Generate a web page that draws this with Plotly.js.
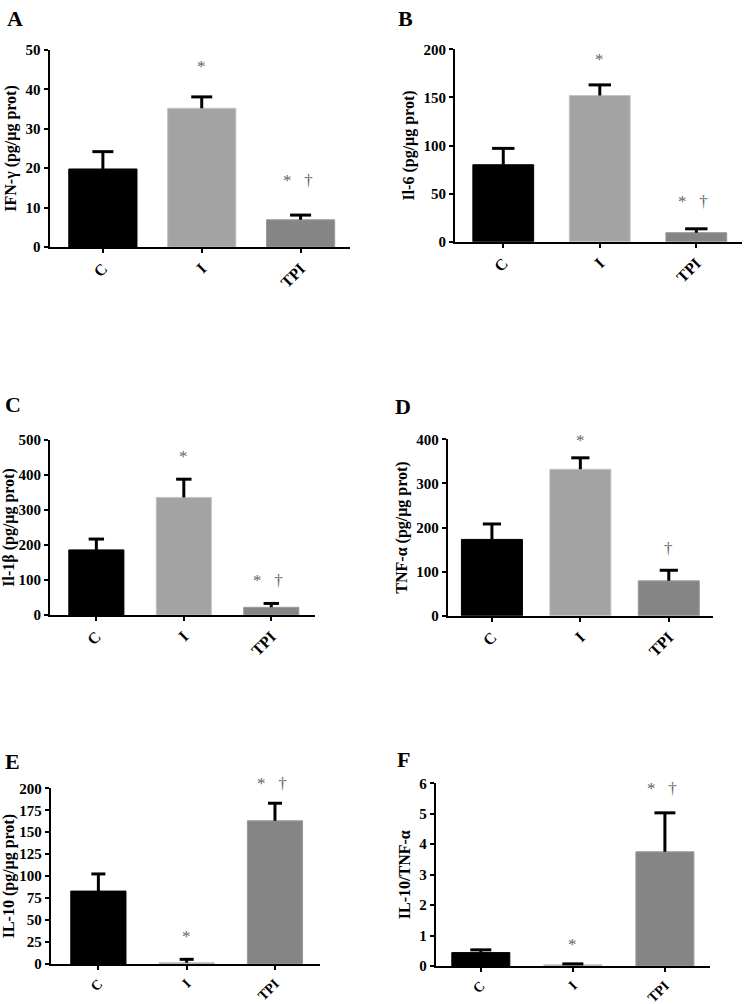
<!DOCTYPE html>
<html>
<head>
<meta charset="utf-8">
<script src="https://cdn.plot.ly/plotly-3.0.1.min.js"></script>
<style>html,body{margin:0;padding:0;background:#fff;}#chart{width:747px;height:1004px;}</style>
</head>
<body>
<div id="chart"></div>
<script>
// ---- data ----
const categories = ['C', 'I', 'TPI'];
const barColors = ['#000000', '#a3a3a3', '#858585'];
const barEdges = ['#000000', '#c4c4c4', '#9a9a9a'];

const ifnMean = [19.8, 35.2, 6.9];
const ifnSem = [4.4, 2.9, 1.2];
const il6Mean = [80, 152, 9.4];
const il6Sem = [17, 11, 4];
const il1bMean = [186, 336, 22];
const il1bSem = [31, 52, 11];
const tnfMean = [173, 332, 79];
const tnfSem = [35, 26, 24];
const il10Mean = [83, 1.5, 163];
const il10Sem = [19.5, 3.8, 20];
const ratioMean = [0.44, 0.04, 3.75];
const ratioSem = [0.09, 0.03, 1.28];

const sigA = ['', '*', '*   \u2020'];
const sigD = ['', '*', '\u2020'];
const sigLevelA = [null, 45.7, 17];
const sigLevelB = [null, 189, 41.6];
const sigLevelC = [null, 452, 100];
const sigLevelD = [null, 398, 153];
const sigLevelE = [null, 31, 205.7];
const sigLevelF = [null, 0.69, 5.84];

const yTitles = ['IFN-\u03b3 (pg/\u03bcg prot)', 'Il-6 (pg/\u03bcg prot)', 'Il-1\u03b2 (pg/\u03bcg prot)',
                 'TNF-\u03b1 (pg/\u03bcg prot)', 'IL-10 (pg/\u03bcg prot)', 'IL-10/TNF-\u03b1'];
const panelLetters = ['A', 'B', 'C', 'D', 'E', 'F'];

// ---- layout helpers ----
const W = 747, H = 1004;
const FONT = 'Liberation Serif, Times New Roman, serif';

const panels = [
  {mean: ifnMean, sem: ifnSem, sig: sigA, lvl: sigLevelA, ymax: 50, dtick: 10,
   px: [49.5, 350], py: [50, 247], xr: [-0.54, 2.5], bw: 0.69, cap: 15, letter: [5, 4], xf: 16},
  {mean: il6Mean, sem: il6Sem, sig: sigA, lvl: sigLevelB, ymax: 200, dtick: 50,
   px: [455, 741.7], py: [49.3, 241.7], xr: [-0.5, 2.47], bw: 0.63, cap: 16, letter: [396, 4], xf: 16},
  {mean: il1bMean, sem: il1bSem, sig: sigA, lvl: sigLevelC, ymax: 500, dtick: 100,
   px: [50, 315], py: [440, 615], xr: [-0.53, 2.5], bw: 0.63, cap: 11, letter: [3, 390], xf: 16},
  {mean: tnfMean, sem: tnfSem, sig: sigD, lvl: sigLevelD, ymax: 400, dtick: 100,
   px: [447.7, 713], py: [439.3, 615.7], xr: [-0.5, 2.5], bw: 0.69, cap: 13, letter: [393, 392], xf: 16},
  {mean: il10Mean, sem: il10Sem, sig: sigA, lvl: sigLevelE, ymax: 200, dtick: 25,
   px: [50.7, 320], py: [788.3, 964], xr: [-0.54, 2.51], bw: 0.625, cap: 10, letter: [3, 747], xf: 14},
  {mean: ratioMean, sem: ratioSem, sig: sigA, lvl: sigLevelF, ymax: 6, dtick: 1,
   px: [435.7, 710], py: [783.3, 966], xr: [-0.49, 2.49], bw: 0.63, cap: 15, letter: [395, 745], xf: 14}
];

const traces = [];
const layout = {
  width: W, height: H,
  margin: {l: 0, r: 0, t: 0, b: 0},
  paper_bgcolor: '#ffffff', plot_bgcolor: '#ffffff',
  showlegend: false,
  font: {family: FONT, color: '#000'},
  annotations: []
};

panels.forEach((p, i) => {
  const n = i + 1;
  const xa = n === 1 ? 'x' : 'x' + n;
  const ya = n === 1 ? 'y' : 'y' + n;
  // bars with error stems (no caps)
  traces.push({
    type: 'bar',
    x: categories,
    y: p.mean,
    xaxis: xa, yaxis: ya,
    width: p.bw,
    marker: {color: barColors, line: {color: barEdges, width: 1}},
    error_y: {type: 'data', symmetric: false, array: p.sem, arrayminus: [0, 0, 0],
              color: '#000', thickness: 3, width: 0},
    hoverinfo: 'skip'
  });
  // error caps on top only
  traces.push({
    type: 'scatter', mode: 'markers',
    x: categories,
    y: p.mean.map((m, k) => m + p.sem[k]),
    xaxis: xa, yaxis: ya,
    marker: {symbol: 'line-ew-open', size: p.cap, color: '#000', line: {color: '#000', width: 3}},
    cliponaxis: false,
    hoverinfo: 'skip'
  });
  const axCommon = {
    showline: true, linewidth: 2, linecolor: '#000',
    ticks: 'outside', ticklen: 4, tickwidth: 2, tickcolor: '#000',
    showgrid: false, zeroline: false, fixedrange: true,
    tickfont: {family: FONT, size: 15, weight: 'bold', color: '#000'}
  };
  layout['xaxis' + (n === 1 ? '' : n)] = Object.assign({}, axCommon, {
    domain: [p.px[0] / W, p.px[1] / W],
    anchor: ya,
    type: 'category',
    range: p.xr,
    tickangle: -45,
    tickfont: {family: FONT, size: p.xf, weight: 'bold', color: '#000'}
  });
  layout['yaxis' + (n === 1 ? '' : n)] = Object.assign({}, axCommon, {
    domain: [1 - p.py[1] / H, 1 - p.py[0] / H],
    anchor: xa,
    range: [0, p.ymax],
    dtick: p.dtick,
    tick0: 0,
    title: {text: yTitles[i], standoff: 5,
            font: {family: FONT, size: 16, weight: 'bold', color: '#000'}}
  });
  // significance marks
  p.sig.forEach((s, k) => {
    if (!s) return;
    layout.annotations.push({
      xref: xa, yref: ya + ' domain', x: categories[k], y: p.lvl[k] / p.ymax,
      text: s, showarrow: false, yanchor: 'middle', xanchor: 'center',
      xshift: s.length > 1 ? -3 : 0,
      font: {family: FONT, size: 17, color: '#666666'}
    });
  });
  // panel letter
  layout.annotations.push({
    xref: 'paper', yref: 'paper',
    x: p.letter[0] / W, y: 1 - p.letter[1] / H,
    xanchor: 'left', yanchor: 'top',
    text: panelLetters[i], showarrow: false,
    font: {family: FONT, size: 22, weight: 'bold', color: '#000'}
  });
});

Plotly.newPlot('chart', traces, layout, {displayModeBar: false, staticPlot: true});
</script>
</body>
</html>
